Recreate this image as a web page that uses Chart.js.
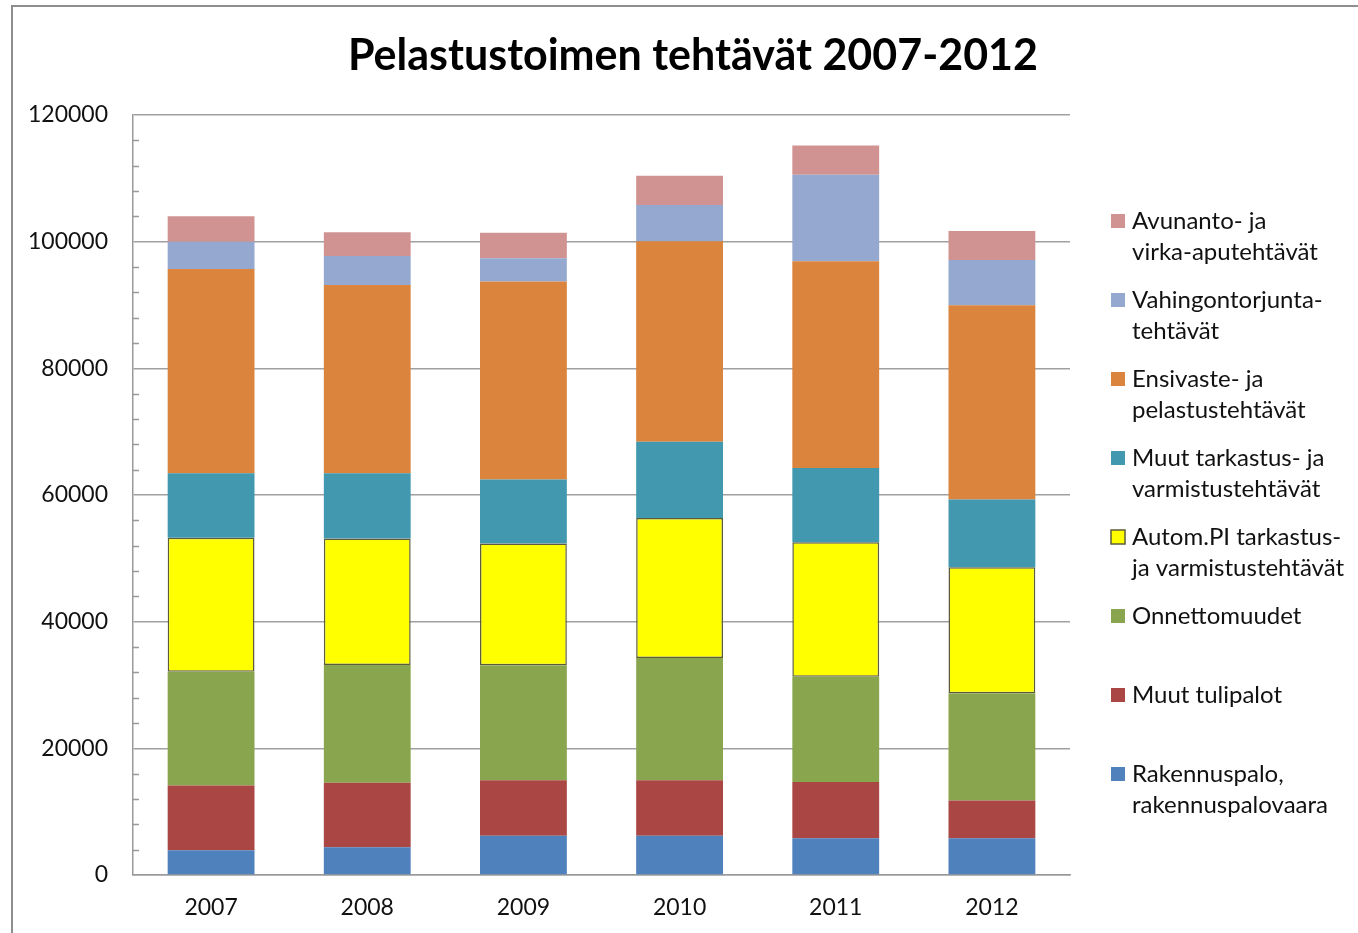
<!DOCTYPE html>
<html>
<head>
<meta charset="utf-8">
<title>Pelastustoimen tehtävät 2007-2012</title>
<script src="https://cdn.jsdelivr.net/npm/chart.js@4"></script>
<style>
  html, body { margin: 0; padding: 0; background: #fff; overflow: hidden; }
  #frame { position: absolute; left: 11px; top: 5px; width: 1400px; height: 1000px;
           border-left: 2px solid #8e8e8e; border-top: 2px solid #8e8e8e; }
  #salesChart { position: absolute; left: 0; top: 0; }
</style>
</head>
<body>
<div id="frame"></div>
<canvas id="salesChart" width="1358" height="933"></canvas>
<script>
// Data
const years = ['2007', '2008', '2009', '2010', '2011', '2012'];
const rakennuspalo     = [3900, 4400, 6200, 6200, 5800, 5800];
const muutTulipalot    = [10250, 10150, 8750, 8750, 8900, 5950];
const onnettomuudet    = [17950, 18600, 18150, 19300, 16600, 16950];
const automPI          = [21150, 20000, 19250, 22100, 21250, 19900];
const muutTarkastus    = [10200, 10300, 10100, 12050, 11700, 10700];
const ensivaste        = [32250, 29700, 31250, 31650, 32650, 30650];
const vahingontorjunta = [4300, 4600, 3700, 5750, 13650, 7150];
const avunanto         = [4000, 3750, 4000, 4600, 4650, 4600];

const yTicks = [0, 20000, 40000, 60000, 80000, 100000, 120000];
const chartTitle = 'Pelastustoimen tehtävät 2007-2012';

const series = [
    { lines: ['Rakennuspalo,', 'rakennuspalovaara'], data: rakennuspalo, color: '#4f81bd' },
    { lines: ['Muut tulipalot'], data: muutTulipalot, color: '#aa4744' },
    { lines: ['Onnettomuudet'], data: onnettomuudet, color: '#89a54e' },
    { lines: ['Autom.PI tarkastus-', 'ja varmistustehtävät'], data: automPI, color: '#ffff00', border: '#5c5c3c' },
    { lines: ['Muut tarkastus- ja', 'varmistustehtävät'], data: muutTarkastus, color: '#4298af' },
    { lines: ['Ensivaste- ja', 'pelastustehtävät'], data: ensivaste, color: '#db843d' },
    { lines: ['Vahingontorjunta-', 'tehtävät'], data: vahingontorjunta, color: '#95a9d0' },
    { lines: ['Avunanto- ja', 'virka-aputehtävät'], data: avunanto, color: '#d19392' }
];

const FONT = 'Lato, "Open Sans", sans-serif';

// short ticks on the value axis every 4000
const minorTicks = {
    id: 'minorTicks',
    afterDatasetsDraw(chart) {
        const y = chart.scales.y;
        const ctx = chart.ctx;
        ctx.save();
        ctx.strokeStyle = '#9a9a9a';
        ctx.lineWidth = 1.5;
        for (let v = 0; v <= 120000; v += 4000) {
            if (v % 20000 === 0) continue;
            const py = Math.round(y.getPixelForValue(v)) + 0.5;
            ctx.beginPath();
            ctx.moveTo(y.right, py);
            ctx.lineTo(y.right + 6, py);
            ctx.stroke();
        }
        ctx.restore();
    }
};

// title and legend on the right, drawn like the spreadsheet does
const sideLegend = {
    id: 'sideLegend',
    afterDraw(chart) {
        const ctx = chart.ctx;
        ctx.save();
        ctx.fillStyle = '#000';
        ctx.font = 'bold 43px ' + FONT;
        ctx.textAlign = 'center';
        ctx.textBaseline = 'middle';
        ctx.fillText(chartTitle, 693, 56);

        ctx.font = '24px ' + FONT;
        ctx.textAlign = 'left';
        const items = chart.data.datasets.slice().reverse();
        items.forEach((ds, i) => {
            const top = 221 + i * 79;
            ctx.fillStyle = ds.backgroundColor;
            ctx.fillRect(1111, top - 7, 14, 14);
            if (ds.borderWidth) {
                ctx.strokeStyle = ds.borderColor;
                ctx.lineWidth = 1.5;
                ctx.strokeRect(1111, top - 7, 14, 14);
            }
            ctx.fillStyle = '#111';
            ds.lines.forEach((t, k) => ctx.fillText(t, 1132, top + k * 31));
        });
        ctx.restore();
    }
};

function drawChart() {
    const ctx = document.getElementById('salesChart').getContext('2d');
    new Chart(ctx, {
        type: 'bar',
        data: {
            labels: years,
            datasets: series.map(s => ({
                label: s.lines.join(' '),
                lines: s.lines,
                data: s.data,
                backgroundColor: s.color,
                borderColor: s.border || s.color,
                borderWidth: s.border ? 1.5 : 0,
                borderSkipped: false,
                barPercentage: 0.556,
                categoryPercentage: 1
            }))
        },
        options: {
            responsive: false,
            animation: false,
            layout: { padding: { top: 115, right: 288, left: 0, bottom: 0 } },
            plugins: {
                legend: { display: false },
                title: { display: false },
                tooltip: { enabled: false }
            },
            scales: {
                x: {
                    stacked: true,
                    grid: { display: false, drawTicks: false },
                    border: { display: true, color: '#9a9a9a', width: 1.5 },
                    ticks: { padding: 19, color: '#111', font: { family: FONT, size: 23 } },
                    afterFit: s => { s.height = 58; }
                },
                y: {
                    stacked: true,
                    min: 0,
                    max: 120000,
                    afterBuildTicks: s => { s.ticks = yTicks.map(v => ({ value: v })); },
                    grid: { color: '#a0a0a0', lineWidth: 1.5, drawTicks: false },
                    border: { display: true, color: '#9a9a9a', width: 1.5 },
                    ticks: {
                        padding: 25,
                        color: '#111',
                        font: { family: FONT, size: 23 },
                        callback: v => String(v)
                    },
                    afterFit: s => { s.width = 133; }
                }
            }
        },
        plugins: [minorTicks, sideLegend]
    });
}

Promise.all([
    document.fonts.load('23px Lato'),
    document.fonts.load('bold 43px Lato')
]).then(drawChart, drawChart);
</script>
</body>
</html>
